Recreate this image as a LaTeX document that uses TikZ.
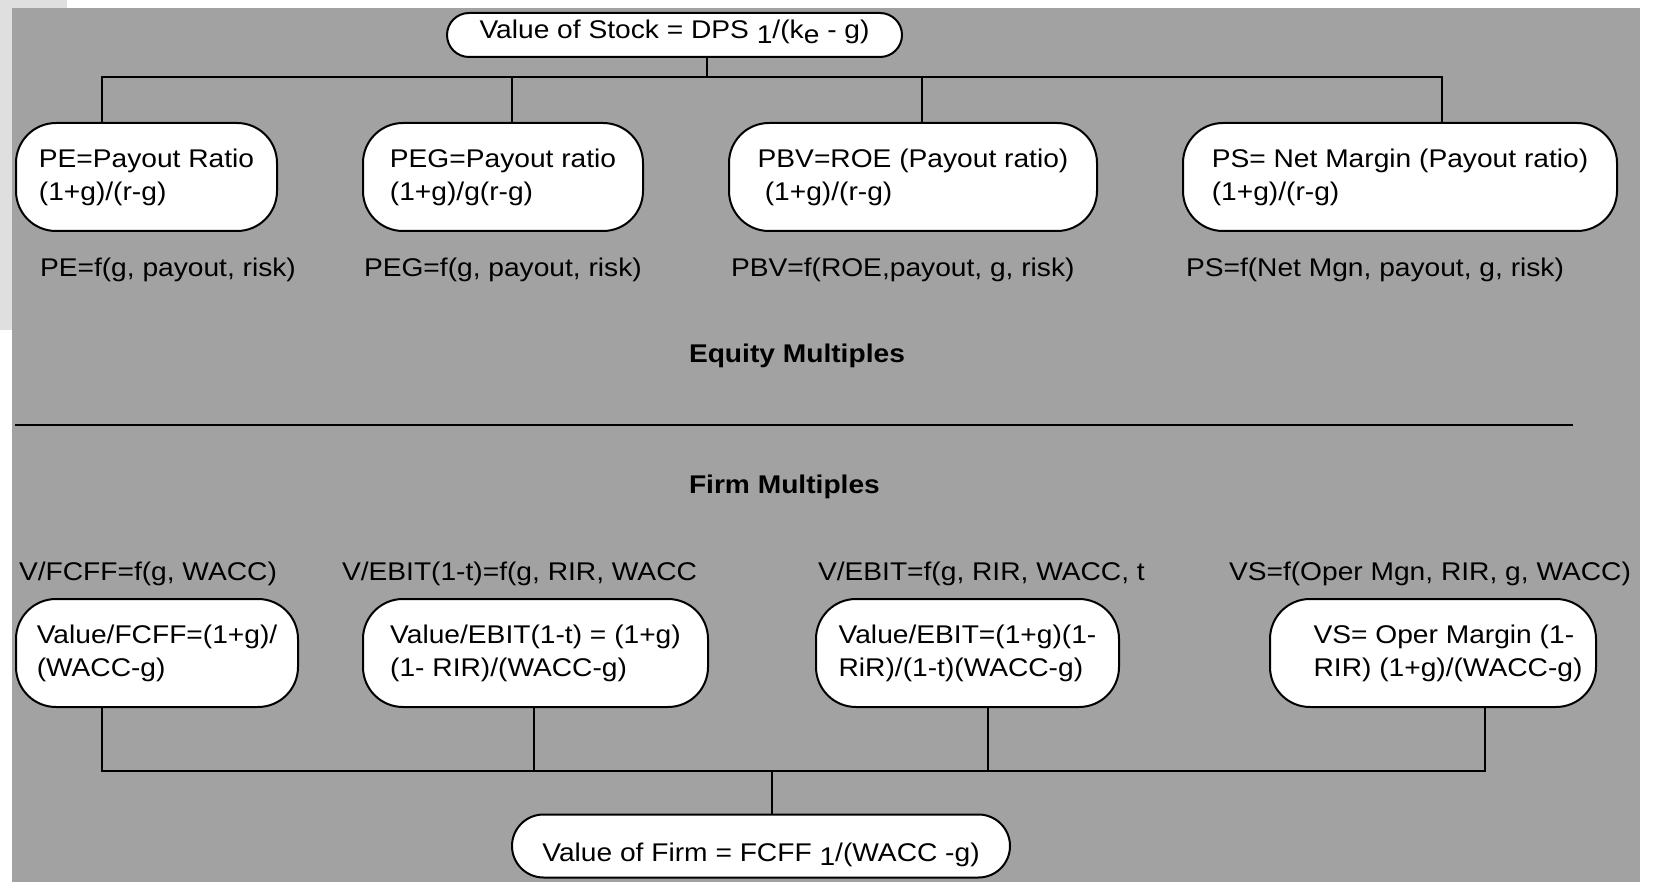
\documentclass[tikz,border=0pt]{standalone}
\usepackage{fontspec}
\setmainfont{Liberation Sans}[FakeStretch=1.1]
\definecolor{slidegray}{RGB}{162,162,162}
\newcommand{\lowr}[1]{\raisebox{-0.35ex}{#1}}

\begin{document}
\begin{tikzpicture}[
  x=0.5pt, y=-0.5pt,
  line width=1pt,
  font=\fontsize{12.8pt}{16.5pt}\selectfont,
  valbox/.style={draw, fill=white, rounded corners=20pt, align=left,
    minimum height=54pt, anchor=north west},
  capsule/.style={draw, fill=white, inner sep=0pt},
  note/.style={anchor=west, inner sep=0pt},
  heading/.style={note, font=\fontsize{12.8pt}{16.5pt}\selectfont\bfseries}
]
\useasboundingbox (0,0) rectangle (1655,882);
\fill[gray!25] (0,0) rectangle (67,330);
\fill[slidegray] (12,8) rectangle (1640,882);

% equity side
\node[capsule, rounded corners=11pt, minimum width=227.5pt, minimum height=22pt]
  (stockval) at (674.5,35) {\raisebox{-2pt}[0pt][0pt]{Value of Stock = DPS \lowr{1}/(k\lowr{e} - g)}};
\coordinate (topbar) at (707,77);

\node[valbox, minimum width=130.5pt] (pe) at (15,122) {PE=Payout Ratio\\(1+g)/(r-g)};
\node[valbox, minimum width=140pt] (peg) at (362,122) {PEG=Payout ratio\\(1+g)/g(r-g)};
\node[valbox, minimum width=184pt] (pbv) at (728,122) {PBV=ROE (Payout ratio)\\\hspace*{.28em}(1+g)/(r-g)};
\node[valbox, minimum width=217pt] (ps) at (1182,122) {PS= Net Margin (Payout ratio)\\(1+g)/(r-g)};

\node[note] (pef) at (39,270) {PE=f(g, payout, risk)};
\node[note] (pegf) at (363,270) {PEG=f(g, payout, risk)};
\node[note] (pbvf) at (730,270) {PBV=f(ROE,payout, g, risk)};
\node[note] (psf) at (1185,270) {PS=f(Net Mgn, payout, g, risk)};

\draw (stockval.south -| topbar) -- (topbar);
\draw (topbar) -| (pe.north -| 102,0);
\draw (topbar) -| (peg.north -| 512,0);
\draw (topbar) -| (pbv.north -| 922,0);
\draw (topbar) -| (ps.north -| 1442,0);

\node[heading] (eqhead) at (688,356) {Equity Multiples};
\draw (15,425) -- (1573,425);
\node[heading] (firmhead) at (688,487) {Firm Multiples};

% firm side
\node[note] (fcfff) at (18,574) {V/FCFF=f(g, WACC)};
\node[note] (ebittf) at (341,574) {V/EBIT(1-t)=f(g, RIR, WACC};
\node[note] (ebitf) at (817,574) {V/EBIT=f(g, RIR, WACC, t};
\node[note] (vsf) at (1228,574) {VS=f(Oper Mgn, RIR, g, WACC)};

\node[valbox, minimum width=141pt] (fcff) at (15,598) {Value/FCFF=(1+g)/\\(WACC-g)};
\node[valbox, minimum width=172.5pt] (ebitt) at (362,598) {Value/EBIT(1-t) = (1+g)\\(1- RIR)/(WACC-g)};
\node[valbox, minimum width=151.5pt] (ebit) at (815,598) {Value/EBIT=(1+g)(1-\\RiR)/(1-t)(WACC-g)};
\node[valbox, minimum width=163pt] (vs) at (1269,598) {\hspace*{15pt}VS= Oper Margin (1-\\\hspace*{15pt}RIR) (1+g)/(WACC-g)};

\node[capsule, rounded corners=15.75pt, minimum width=249pt, minimum height=31.5pt]
  (firmval) at (761,846) {\raisebox{-7.5pt}[0pt][0pt]{Value of Firm = FCFF \lowr{1}/(WACC -g)}};
\coordinate (botbar) at (772,771);

\draw (firmval.north -| botbar) -- (botbar);
\draw (botbar) -| (fcff.south -| 102,0);
\draw (botbar) -| (ebitt.south -| 534,0);
\draw (botbar) -| (ebit.south -| 988,0);
\draw (botbar) -| (vs.south -| 1485,0);
\end{tikzpicture}
\end{document}
